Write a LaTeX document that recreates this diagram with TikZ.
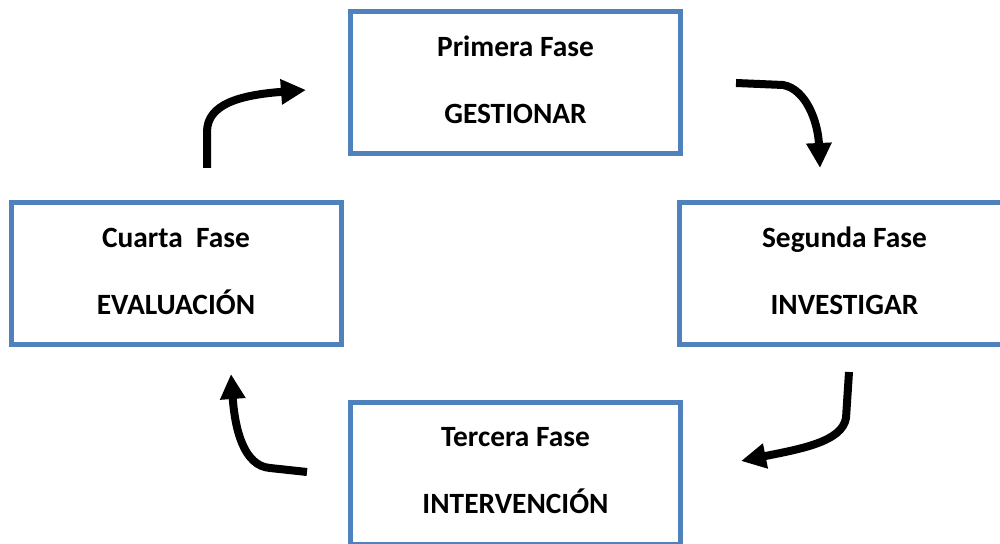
\documentclass[tikz,border=0pt]{standalone}
\usepackage{fontspec}
\setmainfont{Carlito}
\usetikzlibrary{arrows.meta}
\definecolor{faseblue}{RGB}{79,129,189}

\begin{document}
\begin{tikzpicture}[x=0.5pt, y=-0.5pt,
fasebox/.style={rectangle, draw=faseblue, line width=2.5pt, minimum width=165pt, minimum height=71pt, inner sep=0pt, align=center, font=\fontsize{14.7}{17}\selectfont\bfseries},
flecha/.style={line width=4pt, -{Triangle[length=12.5pt, width=12pt]}},
]
    \useasboundingbox (0,0) rectangle (1000,544);
    \clip (0,0) rectangle (1000,544);

    % el texto queda un poco por encima del centro de cada caja
    \node[fasebox]      (primera)      at (515.5,82.5)    {Primera Fase\\[16.5pt]GESTIONAR\\[-14pt]\mbox{}};
    \node[fasebox]      (segunda)      at (844.5,274)     {Segunda Fase\\[16.5pt]INVESTIGAR\\[-14pt]\mbox{}};
    \node[fasebox]      (tercera)      at (515.5,473.5)   {Tercera Fase\\[16.5pt]INTERVENCIÓN\\[-14pt]\mbox{}};
    \node[fasebox]      (cuarta)       at (176,274)       {Cuarta~~Fase\\[16.5pt]EVALUACIÓN\\[-14pt]\mbox{}};

    % extremos de las flechas
    \coordinate (f1a) at (207,168);
    \coordinate (f1b) at (306,90);
    \coordinate (f2a) at (736,83);
    \coordinate (f2b) at (820,168);
    \coordinate (f3a) at (849,372);
    \coordinate (f3b) at (741,461);
    \coordinate (f4a) at (307,472);
    \coordinate (f4b) at (231,374);

    \draw[flecha] (f1a) -- (207,132) .. controls (207,104) and (240,95) .. (f1b);
    \draw[flecha] (f2a) -- (783,85) .. controls (806,89) and (818,122) .. (f2b);
    \draw[flecha] (f3a) -- (846,418) .. controls (842,442) and (800,449) .. (f3b);
    \draw[flecha] (f4a) -- (270,468) .. controls (244,466) and (235,430) .. (f4b);
\end{tikzpicture}
\end{document}
